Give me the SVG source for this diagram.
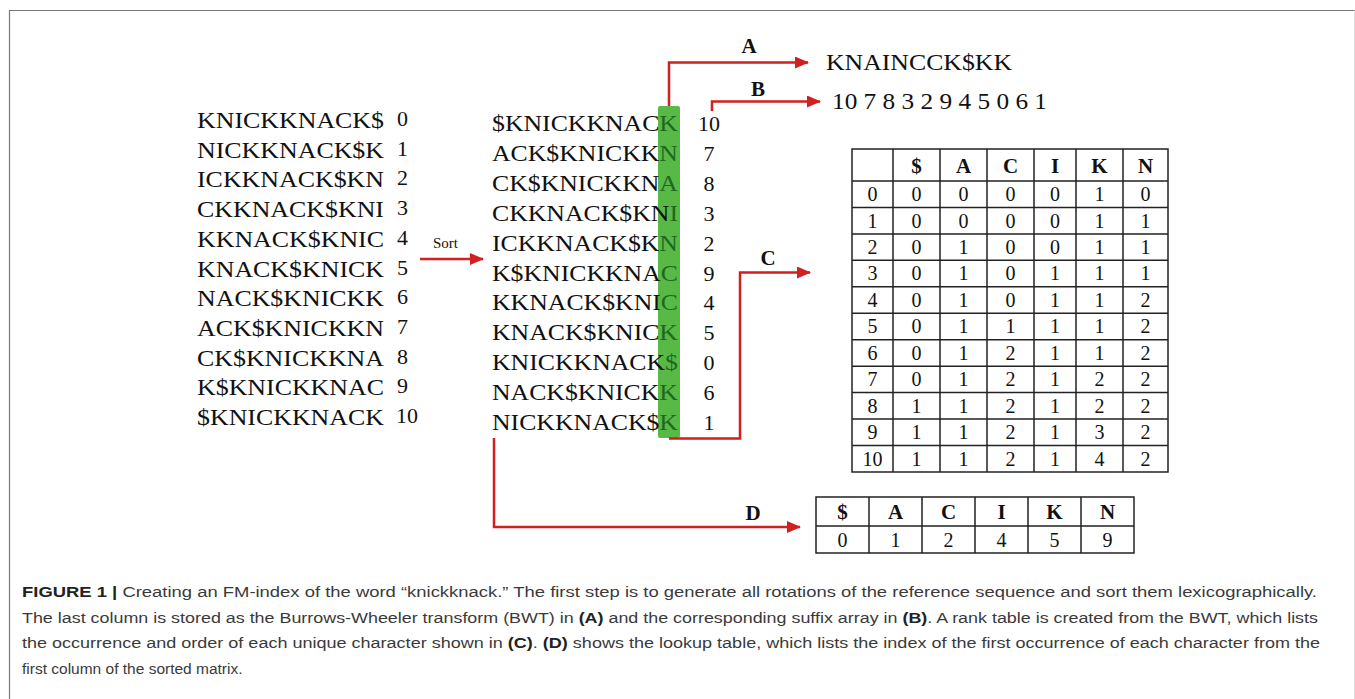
<svg xmlns="http://www.w3.org/2000/svg" width="1355" height="699" viewBox="0 0 1355 699">
<defs>
<marker id="arr" markerUnits="userSpaceOnUse" markerWidth="14" markerHeight="12" refX="13" refY="6" orient="auto">
<path d="M0,0 L14,6 L0,12 Z" fill="#d21f1f"/>
</marker>
<style>
.s{font-family:"Liberation Serif",serif;font-size:23px;fill:#111}
.n{font-family:"Liberation Serif",serif;font-size:22px;fill:#111}
.lab{font-family:"Liberation Serif",serif;font-size:21px;font-weight:bold;fill:#111}
.sm{font-family:"Liberation Serif",serif;font-size:15px;fill:#111}
.g{fill:#1d6a1d}
.c{fill:none;stroke:#d21f1f;stroke-width:2.5}
.tb{fill:none;stroke:#222;stroke-width:1.5}
.th{font-family:"Liberation Serif",serif;font-size:21px;font-weight:bold;fill:#111;text-anchor:middle}
.td{font-family:"Liberation Serif",serif;font-size:20px;fill:#111;text-anchor:middle}
.cap{font-family:"Liberation Sans",Arial,sans-serif;font-size:15.5px;fill:#3a3a3a}
.b{font-weight:bold}
</style>
</defs>
<rect width="1355" height="699" fill="#fff"/>
<g id="frame">
<path d="M9.5,699 V10.5 H1355" fill="none" stroke="#777" stroke-width="1.2"/>
<path d="M1354.5,10.5 V699" fill="none" stroke="#ddd" stroke-width="1"/>
</g>

<g id="rotations">
<text class="s" x="197" y="128" textLength="187" lengthAdjust="spacingAndGlyphs">KNICKKNACK$</text><text class="n" x="397" y="126">0</text>
<text class="s" x="197" y="157.7" textLength="187" lengthAdjust="spacingAndGlyphs">NICKKNACK$K</text><text class="n" x="397" y="155.7">1</text>
<text class="s" x="197" y="187.4" textLength="187" lengthAdjust="spacingAndGlyphs">ICKKNACK$KN</text><text class="n" x="397" y="185.4">2</text>
<text class="s" x="197" y="217.1" textLength="187" lengthAdjust="spacingAndGlyphs">CKKNACK$KNI</text><text class="n" x="397" y="215.1">3</text>
<text class="s" x="197" y="246.8" textLength="187" lengthAdjust="spacingAndGlyphs">KKNACK$KNIC</text><text class="n" x="397" y="244.8">4</text>
<text class="s" x="197" y="276.5" textLength="187" lengthAdjust="spacingAndGlyphs">KNACK$KNICK</text><text class="n" x="397" y="274.5">5</text>
<text class="s" x="197" y="306.2" textLength="187" lengthAdjust="spacingAndGlyphs">NACK$KNICKK</text><text class="n" x="397" y="304.2">6</text>
<text class="s" x="197" y="335.9" textLength="187" lengthAdjust="spacingAndGlyphs">ACK$KNICKKN</text><text class="n" x="397" y="333.9">7</text>
<text class="s" x="197" y="365.6" textLength="187" lengthAdjust="spacingAndGlyphs">CK$KNICKKNA</text><text class="n" x="397" y="363.6">8</text>
<text class="s" x="197" y="395.3" textLength="187" lengthAdjust="spacingAndGlyphs">K$KNICKKNAC</text><text class="n" x="397" y="393.3">9</text>
<text class="s" x="197" y="425" textLength="187" lengthAdjust="spacingAndGlyphs">$KNICKKNACK</text><text class="n" x="396" y="423">10</text>
</g>

<g id="sort">
<text class="sm" x="433" y="248">Sort</text>
</g>

<g id="sorted-matrix">
<rect x="658" y="106" width="22" height="332" rx="2" fill="#58b947"/>
<text class="s" x="492" y="131" textLength="186" lengthAdjust="spacingAndGlyphs">$KNICKKNAC<tspan class="g">K</tspan></text><text class="n" x="709" y="131" text-anchor="middle">10</text>
<text class="s" x="492" y="160.9" textLength="186" lengthAdjust="spacingAndGlyphs">ACK$KNICKK<tspan class="g">N</tspan></text><text class="n" x="709" y="160.9" text-anchor="middle">7</text>
<text class="s" x="492" y="190.8" textLength="186" lengthAdjust="spacingAndGlyphs">CK$KNICKKN<tspan class="g">A</tspan></text><text class="n" x="709" y="190.8" text-anchor="middle">8</text>
<text class="s" x="492" y="220.7" textLength="186" lengthAdjust="spacingAndGlyphs">CKKNACK$KN<tspan class="g">I</tspan></text><text class="n" x="709" y="220.7" text-anchor="middle">3</text>
<text class="s" x="492" y="250.6" textLength="186" lengthAdjust="spacingAndGlyphs">ICKKNACK$K<tspan class="g">N</tspan></text><text class="n" x="709" y="250.6" text-anchor="middle">2</text>
<text class="s" x="492" y="280.5" textLength="186" lengthAdjust="spacingAndGlyphs">K$KNICKKNA<tspan class="g">C</tspan></text><text class="n" x="709" y="280.5" text-anchor="middle">9</text>
<text class="s" x="492" y="310.4" textLength="186" lengthAdjust="spacingAndGlyphs">KKNACK$KNI<tspan class="g">C</tspan></text><text class="n" x="709" y="310.4" text-anchor="middle">4</text>
<text class="s" x="492" y="340.3" textLength="186" lengthAdjust="spacingAndGlyphs">KNACK$KNIC<tspan class="g">K</tspan></text><text class="n" x="709" y="340.3" text-anchor="middle">5</text>
<text class="s" x="492" y="370.2" textLength="186" lengthAdjust="spacingAndGlyphs">KNICKKNACK<tspan class="g">$</tspan></text><text class="n" x="709" y="370.2" text-anchor="middle">0</text>
<text class="s" x="492" y="400.1" textLength="186" lengthAdjust="spacingAndGlyphs">NACK$KNICK<tspan class="g">K</tspan></text><text class="n" x="709" y="400.1" text-anchor="middle">6</text>
<text class="s" x="492" y="430" textLength="186" lengthAdjust="spacingAndGlyphs">NICKKNACK$<tspan class="g">K</tspan></text><text class="n" x="709" y="430" text-anchor="middle">1</text>
</g>

<g id="connectors">
<path class="c" d="M420,259 H483" marker-end="url(#arr)"/>
<path class="c" d="M669,106 V62.5 H808" marker-end="url(#arr)"/>
<path class="c" d="M712,111 V101.5 H820" marker-end="url(#arr)"/>
<path class="c" d="M669,438.5 H740 V272.5 H810" marker-end="url(#arr)"/>
<path class="c" d="M494,438 V527 H800" marker-end="url(#arr)"/>
</g>

<g id="labels">
<text class="lab" x="749" y="53" text-anchor="middle">A</text>
<text class="lab" x="758" y="96" text-anchor="middle">B</text>
<text class="lab" x="768" y="265" text-anchor="middle">C</text>
<text class="lab" x="753" y="520" text-anchor="middle">D</text>
</g>

<g id="bwt-A">
<text class="s" x="826" y="70" textLength="186" lengthAdjust="spacingAndGlyphs">KNAINCCK$KK</text>
</g>
<g id="suffix-array-B">
<text class="s" x="832" y="109" textLength="215" lengthAdjust="spacingAndGlyphs">10 7 8 3 2 9 4 5 0 6 1</text>
</g>

<g id="rank-table-C">
<rect class="tb" x="852" y="149" width="316" height="323"/>
<path class="tb" d="M893,149V472M940,149V472M987,149V472M1034,149V472M1076,149V472M1123,149V472"/>
<path class="tb" d="M852,181H1168M852,207.45H1168M852,233.9H1168M852,260.35H1168M852,286.8H1168M852,313.25H1168M852,339.7H1168M852,366.15H1168M852,392.6H1168M852,419.05H1168M852,445.5H1168"/>
<g class="th"><text x="916.5" y="173">$</text><text x="963.5" y="173">A</text><text x="1010.5" y="173">C</text><text x="1055" y="173">I</text><text x="1099.5" y="173">K</text><text x="1145.5" y="173">N</text></g>
<g class="td">
<text x="872.5" y="201">0</text><text x="916.5" y="201">0</text><text x="963.5" y="201">0</text><text x="1010.5" y="201">0</text><text x="1055" y="201">0</text><text x="1099.5" y="201">1</text><text x="1145.5" y="201">0</text>
<text x="872.5" y="227.5">1</text><text x="916.5" y="227.5">0</text><text x="963.5" y="227.5">0</text><text x="1010.5" y="227.5">0</text><text x="1055" y="227.5">0</text><text x="1099.5" y="227.5">1</text><text x="1145.5" y="227.5">1</text>
<text x="872.5" y="253.9">2</text><text x="916.5" y="253.9">0</text><text x="963.5" y="253.9">1</text><text x="1010.5" y="253.9">0</text><text x="1055" y="253.9">0</text><text x="1099.5" y="253.9">1</text><text x="1145.5" y="253.9">1</text>
<text x="872.5" y="280.4">3</text><text x="916.5" y="280.4">0</text><text x="963.5" y="280.4">1</text><text x="1010.5" y="280.4">0</text><text x="1055" y="280.4">1</text><text x="1099.5" y="280.4">1</text><text x="1145.5" y="280.4">1</text>
<text x="872.5" y="306.8">4</text><text x="916.5" y="306.8">0</text><text x="963.5" y="306.8">1</text><text x="1010.5" y="306.8">0</text><text x="1055" y="306.8">1</text><text x="1099.5" y="306.8">1</text><text x="1145.5" y="306.8">2</text>
<text x="872.5" y="333.3">5</text><text x="916.5" y="333.3">0</text><text x="963.5" y="333.3">1</text><text x="1010.5" y="333.3">1</text><text x="1055" y="333.3">1</text><text x="1099.5" y="333.3">1</text><text x="1145.5" y="333.3">2</text>
<text x="872.5" y="359.7">6</text><text x="916.5" y="359.7">0</text><text x="963.5" y="359.7">1</text><text x="1010.5" y="359.7">2</text><text x="1055" y="359.7">1</text><text x="1099.5" y="359.7">1</text><text x="1145.5" y="359.7">2</text>
<text x="872.5" y="386.2">7</text><text x="916.5" y="386.2">0</text><text x="963.5" y="386.2">1</text><text x="1010.5" y="386.2">2</text><text x="1055" y="386.2">1</text><text x="1099.5" y="386.2">2</text><text x="1145.5" y="386.2">2</text>
<text x="872.5" y="412.6">8</text><text x="916.5" y="412.6">1</text><text x="963.5" y="412.6">1</text><text x="1010.5" y="412.6">2</text><text x="1055" y="412.6">1</text><text x="1099.5" y="412.6">2</text><text x="1145.5" y="412.6">2</text>
<text x="872.5" y="439.1">9</text><text x="916.5" y="439.1">1</text><text x="963.5" y="439.1">1</text><text x="1010.5" y="439.1">2</text><text x="1055" y="439.1">1</text><text x="1099.5" y="439.1">3</text><text x="1145.5" y="439.1">2</text>
<text x="872.5" y="465.5">10</text><text x="916.5" y="465.5">1</text><text x="963.5" y="465.5">1</text><text x="1010.5" y="465.5">2</text><text x="1055" y="465.5">1</text><text x="1099.5" y="465.5">4</text><text x="1145.5" y="465.5">2</text>
</g>
</g>

<g id="lookup-table-D">
<rect class="tb" x="816" y="497" width="318" height="56"/>
<path class="tb" d="M816,526H1134M869,497V553M922,497V553M975,497V553M1028,497V553M1081,497V553"/>
<g class="th"><text x="842.5" y="519">$</text><text x="895.5" y="519">A</text><text x="948.5" y="519">C</text><text x="1001.5" y="519">I</text><text x="1054.5" y="519">K</text><text x="1107.5" y="519">N</text></g>
<g class="td"><text x="842.5" y="546.5">0</text><text x="895.5" y="546.5">1</text><text x="948.5" y="546.5">2</text><text x="1001.5" y="546.5">4</text><text x="1054.5" y="546.5">5</text><text x="1107.5" y="546.5">9</text></g>
</g>

<g id="caption">
<text class="cap" x="22" y="597" textLength="1295" lengthAdjust="spacingAndGlyphs"><tspan class="b" fill="#222">FIGURE 1</tspan>  <tspan class="b" fill="#222">|</tspan>  Creating an FM-index of the word “knickknack.” The first step is to generate all rotations of the reference sequence and sort them lexicographically.</text>
<text class="cap" x="22" y="622.5" textLength="1296" lengthAdjust="spacingAndGlyphs">The last column is stored as the Burrows-Wheeler transform (BWT) in <tspan class="b" fill="#222">(A)</tspan> and the corresponding suffix array in <tspan class="b" fill="#222">(B)</tspan>. A rank table is created from the BWT, which lists</text>
<text class="cap" x="22" y="648" textLength="1298" lengthAdjust="spacingAndGlyphs">the occurrence and order of each unique character shown in <tspan class="b" fill="#222">(C)</tspan>. <tspan class="b" fill="#222">(D)</tspan> shows the lookup table, which lists the index of the first occurrence of each character from the</text>
<text class="cap" x="22" y="673.5">first column of the sorted matrix.</text>
</g>
</svg>
